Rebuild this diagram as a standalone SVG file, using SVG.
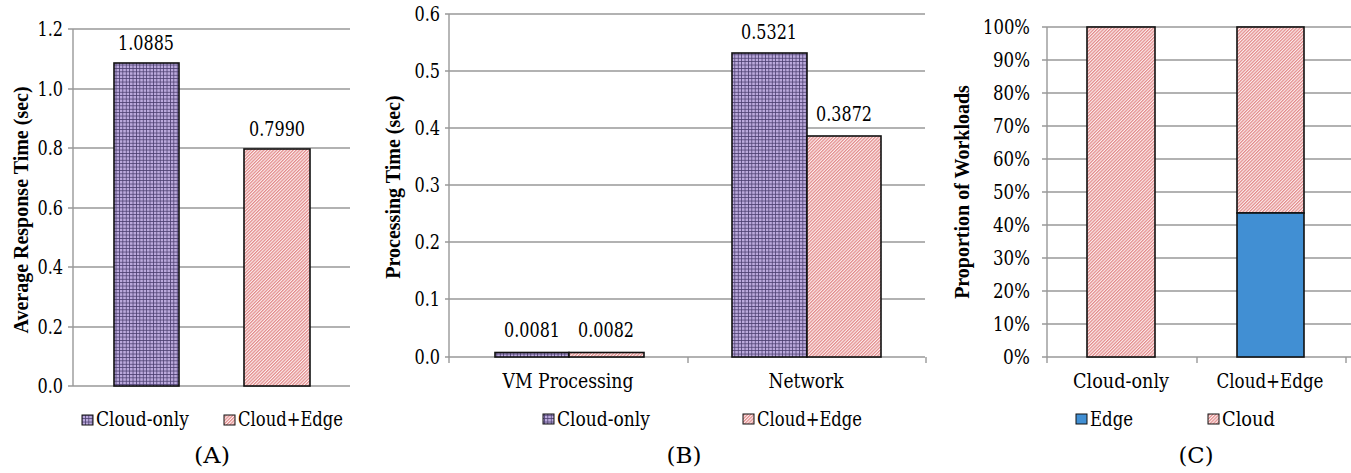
<svg xmlns="http://www.w3.org/2000/svg" width="1351" height="473" viewBox="0 0 1351 473">
<defs>
<pattern id="grid" patternUnits="userSpaceOnUse" width="3.4" height="3.4">
<rect width="3.4" height="3.4" fill="#bba9dc"/>
<path d="M0 0.4H3.4M0.4 0V3.4" stroke="#4a3d6e" stroke-width="0.8"/>
</pattern>
<pattern id="hatch" patternUnits="userSpaceOnUse" width="2.3" height="3" patternTransform="rotate(45)">
<rect width="2.3" height="3" fill="#fcefef"/>
<rect width="1.2" height="3" fill="#e28a8a"/>
</pattern>
</defs>
<style>
text{font-family:"DejaVu Serif",serif;font-stretch:condensed;font-size:19.5px;fill:#000}
.r{text-anchor:end}
.m{text-anchor:middle}
.cap{text-anchor:middle;font-size:22.5px}
.t{font-family:"Liberation Serif","Times New Roman",serif;font-stretch:normal;font-size:20px;font-weight:bold;text-anchor:middle}
.g{stroke:#999;stroke-width:1.4;fill:none}
.bar{stroke:#111;stroke-width:1.6}
.lg{stroke:#111;stroke-width:1}
</style>
<rect width="1351" height="473" fill="#fff"/>
<g id="chartA">
<g id="gridA">
<path class="g" d="M68 29H350M68 89H350M68 148H350M68 208H350M68 267H350M68 327H350M68 386H350M73 29V386"/>
</g>
<g id="ticksA">
<text class="r" x="63" y="36" textLength="25.6" lengthAdjust="spacingAndGlyphs">1.2</text>
<text class="r" x="63" y="96" textLength="25.6" lengthAdjust="spacingAndGlyphs">1.0</text>
<text class="r" x="63" y="155" textLength="25.6" lengthAdjust="spacingAndGlyphs">0.8</text>
<text class="r" x="63" y="215" textLength="25.6" lengthAdjust="spacingAndGlyphs">0.6</text>
<text class="r" x="63" y="274" textLength="25.6" lengthAdjust="spacingAndGlyphs">0.4</text>
<text class="r" x="63" y="334" textLength="25.6" lengthAdjust="spacingAndGlyphs">0.2</text>
<text class="r" x="63" y="393" textLength="25.6" lengthAdjust="spacingAndGlyphs">0.0</text>
</g>
<text class="t" transform="translate(28,210) rotate(-90)">Average Response Time (sec)</text>
<g id="barA1"><rect class="bar" x="114" y="63" width="65" height="323" fill="url(#grid)"/><text class="m" x="146" y="50" textLength="56" lengthAdjust="spacingAndGlyphs">1.0885</text></g>
<g id="barA2"><rect class="bar" x="244" y="149" width="66" height="237" fill="url(#hatch)"/><text class="m" x="277" y="136" textLength="56" lengthAdjust="spacingAndGlyphs">0.7990</text></g>
<g id="legendA">
<rect class="lg" x="82" y="415" width="11" height="10" fill="url(#grid)"/><text x="96" y="426" textLength="93" lengthAdjust="spacingAndGlyphs">Cloud-only</text>
<rect class="lg" x="224" y="415" width="11" height="10" fill="url(#hatch)"/><text x="238" y="426" textLength="105" lengthAdjust="spacingAndGlyphs">Cloud+Edge</text>
</g>
<text class="cap" x="212" y="463" textLength="36" lengthAdjust="spacingAndGlyphs">(A)</text>
</g>

<g id="chartB">
<g id="gridB">
<path class="g" d="M445 14H925M445 71H925M445 128H925M445 185H925M445 242H925M445 299H925M445 357H925M449 14V363M688 357V363M926 357V363"/>
</g>
<g id="ticksB">
<text class="r" x="440" y="21" textLength="25.6" lengthAdjust="spacingAndGlyphs">0.6</text>
<text class="r" x="440" y="78" textLength="25.6" lengthAdjust="spacingAndGlyphs">0.5</text>
<text class="r" x="440" y="135" textLength="25.6" lengthAdjust="spacingAndGlyphs">0.4</text>
<text class="r" x="440" y="192" textLength="25.6" lengthAdjust="spacingAndGlyphs">0.3</text>
<text class="r" x="440" y="249" textLength="25.6" lengthAdjust="spacingAndGlyphs">0.2</text>
<text class="r" x="440" y="306" textLength="25.6" lengthAdjust="spacingAndGlyphs">0.1</text>
<text class="r" x="440" y="364" textLength="25.6" lengthAdjust="spacingAndGlyphs">0.0</text>
</g>
<text class="t" transform="translate(400,187) rotate(-90)">Processing Time (sec)</text>
<g id="barB1"><rect class="bar" x="495" y="352.5" width="74" height="4.5" fill="url(#grid)"/><text class="m" x="532" y="337" textLength="56" lengthAdjust="spacingAndGlyphs">0.0081</text></g>
<g id="barB2"><rect class="bar" x="569" y="352.5" width="75" height="4.5" fill="url(#hatch)"/><text class="m" x="606" y="337" textLength="56" lengthAdjust="spacingAndGlyphs">0.0082</text></g>
<g id="barB3"><rect class="bar" x="732" y="53" width="75" height="304" fill="url(#grid)"/><text class="m" x="769" y="39" textLength="56" lengthAdjust="spacingAndGlyphs">0.5321</text></g>
<g id="barB4"><rect class="bar" x="807" y="136" width="74" height="221" fill="url(#hatch)"/><text class="m" x="844" y="121" textLength="56" lengthAdjust="spacingAndGlyphs">0.3872</text></g>
<text class="m" x="568" y="388" textLength="131" lengthAdjust="spacingAndGlyphs">VM Processing</text>
<text class="m" x="806" y="388" textLength="75" lengthAdjust="spacingAndGlyphs">Network</text>
<g id="legendB">
<rect class="lg" x="543" y="414" width="11" height="10" fill="url(#grid)"/><text x="557" y="426" textLength="93" lengthAdjust="spacingAndGlyphs">Cloud-only</text>
<rect class="lg" x="743" y="414" width="11" height="10" fill="url(#hatch)"/><text x="757" y="426" textLength="105" lengthAdjust="spacingAndGlyphs">Cloud+Edge</text>
</g>
<text class="cap" x="684" y="463" textLength="35" lengthAdjust="spacingAndGlyphs">(B)</text>
</g>

<g id="chartC">
<g id="gridC">
<path class="g" d="M1042 27H1351M1042 60H1351M1042 93H1351M1042 126H1351M1042 159H1351M1042 192H1351M1042 225H1351M1042 258H1351M1042 291H1351M1042 324H1351M1042 357H1351M1047 27V363M1197 357V363M1346 357V363"/>
</g>
<g id="ticksC">
<text class="r" x="1030" y="34" textLength="47" lengthAdjust="spacingAndGlyphs">100%</text>
<text class="r" x="1030" y="67" textLength="37" lengthAdjust="spacingAndGlyphs">90%</text>
<text class="r" x="1030" y="100" textLength="37" lengthAdjust="spacingAndGlyphs">80%</text>
<text class="r" x="1030" y="133" textLength="37" lengthAdjust="spacingAndGlyphs">70%</text>
<text class="r" x="1030" y="166" textLength="37" lengthAdjust="spacingAndGlyphs">60%</text>
<text class="r" x="1030" y="199" textLength="37" lengthAdjust="spacingAndGlyphs">50%</text>
<text class="r" x="1030" y="232" textLength="37" lengthAdjust="spacingAndGlyphs">40%</text>
<text class="r" x="1030" y="265" textLength="37" lengthAdjust="spacingAndGlyphs">30%</text>
<text class="r" x="1030" y="298" textLength="37" lengthAdjust="spacingAndGlyphs">20%</text>
<text class="r" x="1030" y="331" textLength="37" lengthAdjust="spacingAndGlyphs">10%</text>
<text class="r" x="1030" y="364" textLength="27" lengthAdjust="spacingAndGlyphs">0%</text>
</g>
<text class="t" transform="translate(969,192) rotate(-90)">Proportion of Workloads</text>
<g id="barC1"><rect class="bar" x="1087" y="27" width="68" height="330" fill="url(#hatch)"/></g>
<g id="barC2"><rect class="bar" x="1237" y="27" width="67" height="186" fill="url(#hatch)"/><rect class="bar" x="1237" y="213" width="67" height="144" fill="#418fd3"/></g>
<text class="m" x="1121" y="388" textLength="96" lengthAdjust="spacingAndGlyphs">Cloud-only</text>
<text class="m" x="1270" y="388" textLength="107" lengthAdjust="spacingAndGlyphs">Cloud+Edge</text>
<g id="legendC">
<rect class="lg" x="1076" y="414" width="11" height="10" fill="#418fd3"/><text x="1090" y="426" textLength="43" lengthAdjust="spacingAndGlyphs">Edge</text>
<rect class="lg" x="1208" y="414" width="11" height="10" fill="url(#hatch)"/><text x="1222" y="426" textLength="53" lengthAdjust="spacingAndGlyphs">Cloud</text>
</g>
<text class="cap" x="1196" y="463" textLength="35" lengthAdjust="spacingAndGlyphs">(C)</text>
</g>
</svg>
